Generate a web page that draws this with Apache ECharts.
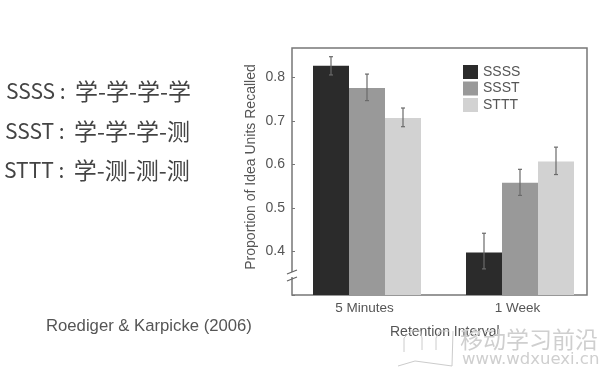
<!DOCTYPE html>
<html><head><meta charset="utf-8">
<style>html,body{margin:0;padding:0;background:#fff}#c{width:600px;height:372px;filter:blur(0.7px)}</style>
<script src="https://cdn.jsdelivr.net/npm/echarts@6/dist/echarts.min.js"></script></head>
<body><div id="c"></div>
<script>
const categories = ['5 Minutes', '1 Week'];
const seriesNames = ['SSSS', 'SSST', 'STTT'];
const ssss = [0.827, 0.398];
const ssst = [0.776, 0.558];
const sttt = [0.707, 0.607];
const ssssErr = [[0.806, 0.848], [0.360, 0.442]];
const ssstErr = [[0.747, 0.808], [0.529, 0.589]];
const stttErr = [[0.687, 0.730], [0.577, 0.640]];
const yTicks = [0.4, 0.5, 0.6, 0.7, 0.8];
const captionCodes = ['SSSS', 'SSST', 'STTT'];
const captionSteps = ['学-学-学-学', '学-学-学-测', '学-测-测-测'];
const citation = 'Roediger & Karpicke (2006)';
const colors = ['#2b2b2b', '#999999', '#d2d2d2'];
const values = [ssss, ssst, sttt];
const errs = [ssssErr, ssstErr, stttErr];
const barW = 36, ink = '#555', sans = '"Liberation Sans",Arial,sans-serif', cjk = '"Noto Sans CJK SC","Noto Sans",sans-serif';
const yMin = 0.3, yMax = 0.868;

const bars = seriesNames.map((n, i) => ({
  name: n, type: 'bar', xAxisIndex: 1, yAxisIndex: 1, barWidth: barW, barGap: 0,
  itemStyle: {color: colors[i]}, data: values[i], z: 2
}));
const whiskers = errs.map((e, i) => ({
  type: 'custom', xAxisIndex: 1, yAxisIndex: 1, z: 3, silent: true,
  data: e.map((r, k) => [k, r[0], r[1]]),
  encode: {x: 0, y: [1, 2]},
  renderItem(p, api) {
    const dx = (i - 1) * barW;
    const lo = api.coord([api.value(0), api.value(1)]);
    const hi = api.coord([api.value(0), api.value(2)]);
    const x = lo[0] + dx, s = {stroke: '#6a6a6a', lineWidth: 1.2};
    return {type: 'group', children: [
      {type: 'line', shape: {x1: x, y1: lo[1], x2: x, y2: hi[1]}, style: s},
      {type: 'line', shape: {x1: x - 2, y1: lo[1], x2: x + 2, y2: lo[1]}, style: s},
      {type: 'line', shape: {x1: x - 2, y1: hi[1], x2: x + 2, y2: hi[1]}, style: s}
    ]};
  }
}));

const graphic = [
  ...captionCodes.map((c, i) => ({type: 'text', left: [6, 5, 4][i], top: [80, 120, 159][i], z: 5,
    style: {text: '{a|' + c + ' :  }{b|' + captionSteps[i] + '}',
      rich: {a: {font: '21px ' + cjk, fill: '#444'}, b: {font: '23px ' + cjk, fill: '#444'}}}})),
  {type: 'text', left: 46, top: 318, style: {text: citation, font: '16.7px ' + sans, fill: ink}},
  {type: 'text', left: 390, top: 325, style: {text: 'Retention Interval', font: '14px ' + sans, fill: ink}},
  {type: 'rect', shape: {x: 289, y: 272, width: 6, height: 5}, style: {fill: '#fff'}, z: 10},
  {type: 'line', shape: {x1: 287, y1: 274, x2: 297, y2: 270}, style: {stroke: '#666', lineWidth: 1.2}, z: 11},
  {type: 'line', shape: {x1: 287, y1: 281, x2: 297, y2: 277}, style: {stroke: '#666', lineWidth: 1.2}, z: 11},
  {type: 'text', left: 460, top: 328, z: 12, style: {text: '移动学习前沿', font: '23px ' + cjk, fill: '#cfcfcf'}},
  {type: 'text', left: 462, top: 351, z: 12, style: {text: 'www.wdxuexi.cn', font: '16.5px "DejaVu Sans",sans-serif', fill: '#cfcfcf'}},
  {type: 'polyline', z: 12, shape: {points: [[404,352],[404,338],[411,331],[420,331],[422,338],[422,350]]}, style: {fill: 'none', stroke: '#ccc', lineWidth: 1}},
  {type: 'polyline', z: 12, shape: {points: [[398,366],[415,361],[430,363],[452,366],[453,331]]}, style: {fill: 'none', stroke: '#ccc', lineWidth: 1}},
  {type: 'polyline', z: 12, shape: {points: [[436,350],[436,338],[440,331],[449,331]]}, style: {fill: 'none', stroke: '#ccc', lineWidth: 1}}
];

const chart = echarts.init(document.getElementById('c'), null, {renderer: 'canvas'});
chart.setOption({
  animation: false,
  backgroundColor: '#fff',
  legend: {
    data: seriesNames.map(n => ({name: n, icon: 'rect'})), orient: 'vertical', left: 463, top: 65,
    itemWidth: 15, itemHeight: 14, itemGap: 2.5, padding: 0, selectedMode: false,
    textStyle: {fontFamily: sans, fontSize: 14, color: ink, padding: [0, 0, 0, 0]}
  },
  grid: [
    {left: 292, top: 48, width: 295, height: 247, show: true, borderColor: '#777', borderWidth: 1.5, backgroundColor: 'transparent'},
    {left: 290.5, top: 48, width: 306, height: 247}
  ],
  xAxis: [
    {type: 'category', gridIndex: 0, data: categories, axisLine: {show: false}, axisTick: {show: false}, axisLabel: {show: false}},
    {type: 'category', gridIndex: 1, data: categories, axisLine: {show: false}, axisTick: {show: false},
     axisLabel: {color: ink, fontFamily: sans, fontSize: 13.5, margin: 6, padding: [0, 5, 0, 0]}}
  ],
  yAxis: [
    {type: 'value', gridIndex: 0, min: yMin, max: yMax, interval: 0.1,
     name: 'Proportion of Idea Units Recalled', nameLocation: 'middle', nameGap: 34,
     nameTextStyle: {color: ink, fontFamily: sans, fontSize: 14, padding: [0, 0, 0, 9]},
     splitLine: {show: false}, axisLine: {show: false},
     axisTick: {show: true, inside: true, length: 3, lineStyle: {color: '#777'}},
     axisLabel: {color: ink, fontFamily: sans, fontSize: 14, margin: 7,
       showMaxLabel: false,
       formatter: v => yTicks.some(t => Math.abs(t - v) < 1e-6) ? v.toFixed(1) : ''}},
    {type: 'value', gridIndex: 1, min: yMin, max: yMax, interval: 0.1, show: false, splitLine: {show: false}}
  ],
  series: [...bars, ...whiskers],
  graphic
});
</script></body></html>
